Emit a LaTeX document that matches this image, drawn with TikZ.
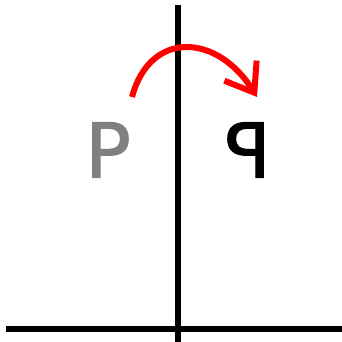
\documentclass[tikz,border=0pt]{standalone}
\usepackage{fontspec}
\newfontfamily\letterfont[FakeBold=1.3]{DejaVu Sans}
\usetikzlibrary{arrows.meta}

\tikzset{
  axisline/.style={line width=3pt, black},
  turnarc/.style={line width=3pt, red, -{Straight Barb[length=13pt, width=19pt, line width=3pt]}},
  letter/.style={font=\letterfont\fontsize{38}{38}\selectfont, inner sep=0pt}
}

\begin{document}
\begin{tikzpicture}[x=0.5pt, y=-0.5pt]

  % cadre
  \useasboundingbox (0,0) rectangle (342,342);

  % axes
  \draw[axisline] (177.5,5) -- (177.5,342);
  \draw[axisline] (6,329) -- (342,329);

  % lettre et son image miroir
  \node[letter, text=gray] (pleft) at (108,150) {P};
  \node[letter, text=black, xscale=-1] (qright) at (248,150) {P};

  % fleche du retournement
  \coordinate (arcstart) at (132,97);
  \coordinate (arcend) at (257,97);
  \draw[turnarc] (arcstart) .. controls (150,30) and (217,33) .. (arcend);

\end{tikzpicture}
\end{document}
